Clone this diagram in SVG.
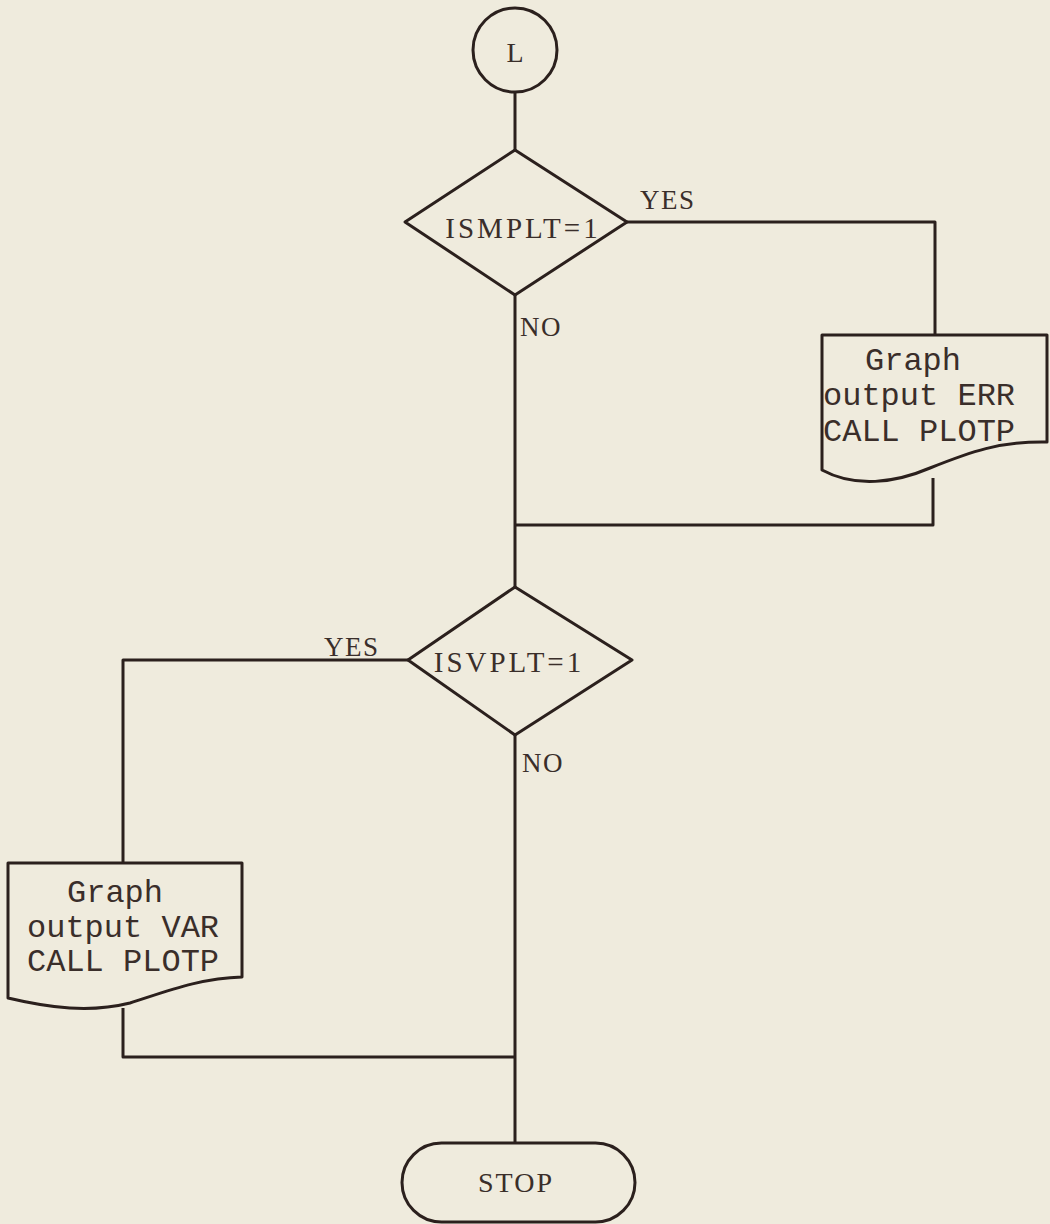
<svg xmlns="http://www.w3.org/2000/svg" width="1050" height="1224" viewBox="0 0 1050 1224">
<style>
.s{fill:none;stroke:#2b201d;stroke-width:3;stroke-linejoin:round}
.lbl{font-family:"Liberation Serif",serif;font-size:27px;fill:#3a2e2a;letter-spacing:1.5px}
.big{font-family:"Liberation Serif",serif;font-size:28px;fill:#3a2e2a;letter-spacing:2px}
.dec{font-family:"Liberation Serif",serif;font-size:29px;fill:#3a2e2a;letter-spacing:3px}
.tt{font-family:"Liberation Mono",monospace;font-size:32px;fill:#3a2e2a}
</style>
<rect width="1050" height="1224" fill="#efebdd"/>
<g id="connectors" class="s">
<path d="M515,92 V150"/>
<path d="M627,222 H935 V335"/>
<path d="M515,295 V587"/>
<path d="M933,478 V525 H515"/>
<path d="M408,660 H123 V863"/>
<path d="M515,735 V1143"/>
<path d="M123,1008 V1057 H515"/>
</g>
<g id="start">
<circle class="s" cx="515" cy="50" r="42"/>
<text class="big" x="516" y="62" text-anchor="middle">L</text>
</g>
<g id="dec1">
<path class="s" d="M515,150 L627,222 L515,295 L405,222 Z"/>
<text class="dec" x="523" y="238" text-anchor="middle">ISMPLT=1</text>
<text class="lbl" x="640" y="209">YES</text>
<text class="lbl" x="520" y="336">NO</text>
</g>
<g id="doc1">
<path class="s" d="M822,335 H1047 V442 C1000,441 970,452 930,468 C895,483 855,488 822,470 Z"/>
<text class="tt" x="865" y="370">Graph</text>
<text class="tt" x="823" y="405">output ERR</text>
<text class="tt" x="823" y="441">CALL PLOTP</text>
</g>
<g id="dec2">
<path class="s" d="M515,587 L632,660 L515,735 L408,660 Z"/>
<text class="dec" x="509" y="672" text-anchor="middle">ISVPLT=1</text>
<text class="lbl" x="324" y="656">YES</text>
<text class="lbl" x="522" y="772">NO</text>
</g>
<g id="doc2">
<path class="s" d="M8,863 H242 V977 C200,978 165,992 130,1003 C90,1013 50,1008 8,998 Z"/>
<text class="tt" x="67" y="902">Graph</text>
<text class="tt" x="27" y="937">output VAR</text>
<text class="tt" x="27" y="971">CALL PLOTP</text>
</g>
<g id="stop">
<rect class="s" x="402" y="1143" width="233" height="79" rx="39.5"/>
<text class="big" x="516" y="1192" text-anchor="middle">STOP</text>
</g>
</svg>
